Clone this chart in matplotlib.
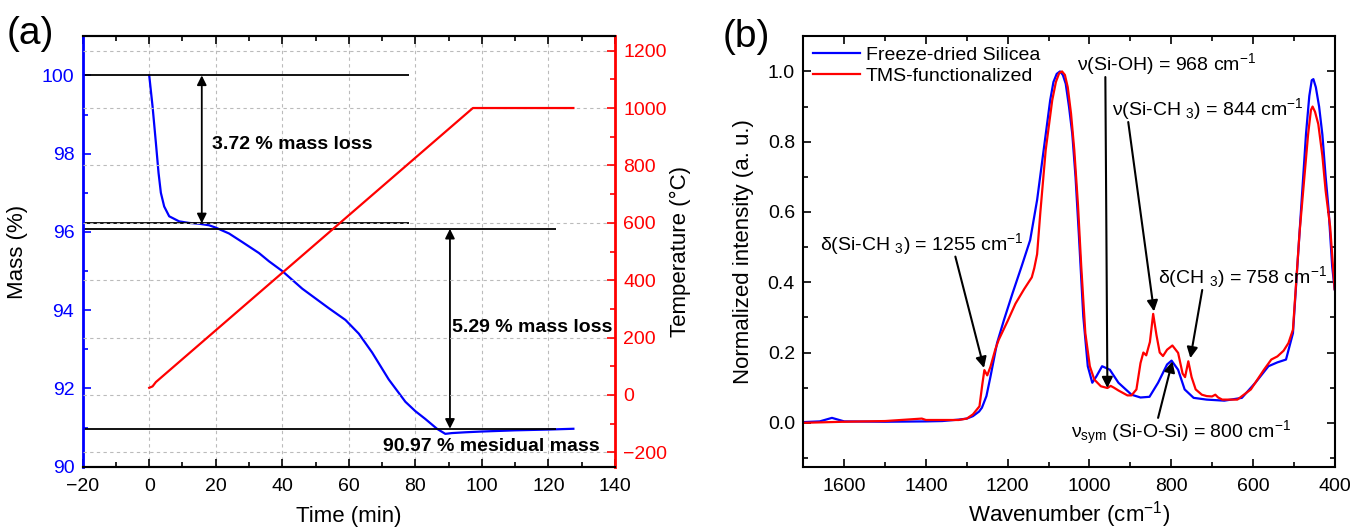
import numpy as np
import matplotlib
matplotlib.use('Agg')
import matplotlib.pyplot as plt
from matplotlib.ticker import MultipleLocator, FormatStrFormatter

plt.rcParams['font.family'] = ['Liberation Sans', 'DejaVu Sans']
plt.rcParams['mathtext.fontset'] = 'custom'
plt.rcParams['mathtext.rm'] = 'Liberation Sans'
plt.rcParams['mathtext.it'] = 'Liberation Sans:italic'
plt.rcParams['mathtext.bf'] = 'Liberation Sans:bold'

# (a) TGA: mass and temperature vs time
time_mass = [0, 1, 2, 2.8, 3.5, 4.5, 6, 9, 12, 15, 18, 20, 24, 28, 33, 36, 40, 46, 50, 54,
             59, 63, 67, 72, 77, 80, 83, 86.5, 89, 91, 95, 100, 110, 120, 127.5]
mass = [100, 99.21, 98.28, 97.51, 97.0, 96.65, 96.4, 96.27, 96.23, 96.21, 96.17, 96.11, 95.96,
        95.74, 95.46, 95.25, 95.0, 94.55, 94.3, 94.05, 93.75, 93.4, 92.92, 92.23, 91.66, 91.42,
        91.22, 90.97, 90.84, 90.86, 90.88, 90.9, 90.93, 90.95, 90.97]
time_temp = [0, 1, 2, 97.3, 127.5]
temp = [25, 30, 45, 1000, 1000]

# reference lines / labels for mass loss
top_lines = [100, 96.22]
bottom_lines = [96.08, 90.97]

# (b) FTIR spectra
wn_fd = [1700, 1660, 1630, 1600, 1500, 1400, 1360, 1320, 1300, 1285, 1270, 1263, 1252, 1242,
         1226, 1209, 1188, 1166, 1145, 1128, 1112, 1096, 1088, 1080, 1072, 1065, 1058, 1050,
         1042, 1034, 1026, 1015, 1004, 993, 983, 969, 950, 929, 897, 875, 853, 832, 810, 799,
         783, 767, 745, 713, 670, 627, 594, 562, 540, 519, 502, 486, 470, 462, 456, 452, 446,
         438, 430, 422, 415, 406, 400]
int_fd = [0.002, 0.004, 0.014, 0.004, 0.003, 0.004, 0.005, 0.009, 0.012, 0.019, 0.032, 0.043,
          0.076, 0.132, 0.227, 0.293, 0.369, 0.445, 0.52, 0.634, 0.776, 0.918, 0.97, 0.993,
          1.0, 0.99, 0.965, 0.9, 0.823, 0.7, 0.539, 0.303, 0.161, 0.114, 0.132, 0.161, 0.151,
          0.114, 0.080, 0.072, 0.074, 0.114, 0.166, 0.177, 0.151, 0.095, 0.071, 0.066, 0.063,
          0.071, 0.114, 0.161, 0.172, 0.180, 0.255, 0.539, 0.823, 0.93, 0.975, 0.978, 0.955,
          0.90, 0.82, 0.70, 0.61, 0.445, 0.38]

wn_tms = [1700, 1600, 1500, 1410, 1400, 1320, 1300, 1285, 1269, 1262, 1257, 1250, 1242, 1230,
          1222, 1200, 1181, 1160, 1141, 1135, 1128, 1120, 1107, 1091, 1082, 1074, 1067, 1060,
          1053, 1045, 1037, 1028, 1020, 1010, 999, 988, 972, 956, 948, 940, 929, 907, 897, 885,
          875, 868, 861, 852, 844, 836, 828, 820, 810, 797, 783, 772, 766, 758, 750, 740, 725,
          713, 700, 692, 685, 675, 638, 605, 573, 555, 540, 525, 513, 502, 486, 465, 458, 454,
          448, 440, 430, 422, 411, 400]
int_tms = [0.0, 0.003, 0.005, 0.012, 0.008, 0.008, 0.012, 0.024, 0.047, 0.11, 0.15, 0.135,
           0.16, 0.21, 0.236, 0.29, 0.339, 0.38, 0.414, 0.44, 0.48, 0.6, 0.776, 0.918, 0.97,
           0.995, 1.0, 0.99, 0.955, 0.88, 0.776, 0.62, 0.445, 0.255, 0.161, 0.123, 0.104, 0.099,
           0.105, 0.1, 0.092, 0.078, 0.078, 0.095, 0.17, 0.2, 0.192, 0.23, 0.31, 0.25, 0.2, 0.19,
           0.208, 0.22, 0.199, 0.14, 0.13, 0.175, 0.13, 0.095, 0.08, 0.076, 0.075, 0.08, 0.072,
           0.066, 0.066, 0.095, 0.151, 0.18, 0.189, 0.205, 0.227, 0.265, 0.539, 0.82, 0.89, 0.9,
           0.885, 0.85, 0.76, 0.66, 0.558, 0.38]

fig = plt.figure(figsize=(13.69, 5.32), dpi=100)

# ---------------- (a) ----------------
ax1 = fig.add_axes([0.0604, 0.1227, 0.3888, 0.8091])
ax2 = ax1.twinx()

ax1.plot(time_mass, mass, color='blue', lw=1.6)
ax2.plot(time_temp, temp, color='red', lw=1.6)

ax1.set_xlim(-20, 140)
ax1.set_ylim(90, 101)
ax2.set_ylim(-250, 1250)
ax1.xaxis.set_major_locator(MultipleLocator(20))
ax1.xaxis.set_minor_locator(MultipleLocator(10))
ax1.yaxis.set_major_locator(MultipleLocator(2))
ax1.yaxis.set_minor_locator(MultipleLocator(1))
ax2.yaxis.set_major_locator(MultipleLocator(200))
ax2.yaxis.set_minor_locator(MultipleLocator(100))

grid_kw = dict(color='#bbbbbb', lw=0.8, ls=(0, (3, 3)))
ax1.grid(axis='x', **grid_kw)
ax2.grid(axis='y', **grid_kw)

ax1.spines['right'].set_visible(False)
ax2.spines['left'].set_visible(False)
ax1.spines['left'].set_color('blue')
ax1.spines['left'].set_linewidth(2)
ax2.spines['right'].set_color('red')
ax2.spines['right'].set_linewidth(2)
for sp in ['top', 'bottom']:
    ax1.spines[sp].set_linewidth(1.5)
    ax2.spines[sp].set_linewidth(1.5)

ax1.tick_params(axis='x', which='both', direction='in', top=True, labelsize=14, width=1.2, pad=8)
ax1.tick_params(axis='y', which='both', direction='in', colors='blue', labelsize=14, width=1.2, pad=6)
ax2.tick_params(axis='y', which='both', direction='in', colors='red', labelsize=14, width=1.2, pad=6)
for ax in (ax1, ax2):
    ax.tick_params(which='major', length=6)
    ax.tick_params(which='minor', length=3.5)

ax1.set_xlabel('Time (min)', fontsize=16, labelpad=8)
ax1.set_ylabel('Mass (%)', fontsize=16, labelpad=10)
ax2.set_ylabel('Temperature (°C)', fontsize=16, labelpad=2)

ax1.hlines(top_lines, -20, 78, color='k', lw=1.3)
ax1.hlines(bottom_lines, -20, 122.3, color='k', lw=1.3)
arrow2 = dict(arrowstyle='<|-|>', color='k', lw=1.3, mutation_scale=14, shrinkA=0, shrinkB=0)
ax1.annotate('', xy=(15.8, top_lines[1]), xytext=(15.8, top_lines[0]), arrowprops=arrow2)
ax1.annotate('', xy=(90.4, bottom_lines[1]), xytext=(90.4, bottom_lines[0]), arrowprops=arrow2)

bold = dict(fontsize=14, fontweight='bold', va='center', ha='left')
ax1.text(18.8, 98.23, '3.72 % mass loss', **bold)
ax1.text(90.9, 93.56, '5.29 % mass loss', **bold)
ax1.text(70.4, 90.51, '90.97 % mesidual mass', **bold)

fig.text(0.005, 0.936, '(a)', fontsize=28, va='center', ha='left')

# ---------------- (b) ----------------
ax3 = fig.add_axes([0.5868, 0.1227, 0.3881, 0.8091])
ax3.plot(wn_fd, int_fd, color='blue', lw=1.6, label='Freeze-dried Silicea')
ax3.plot(wn_tms, int_tms, color='red', lw=1.6, label='TMS-functionalized')
ax3.set_xlim(1700, 400)
ax3.set_ylim(-0.125, 1.1)
ax3.xaxis.set_major_locator(MultipleLocator(200))
ax3.xaxis.set_minor_locator(MultipleLocator(100))
ax3.yaxis.set_major_locator(MultipleLocator(0.2))
ax3.yaxis.set_minor_locator(MultipleLocator(0.1))
ax3.yaxis.set_major_formatter(FormatStrFormatter('%.1f'))
ax3.tick_params(which='both', direction='in', top=True, right=True, labelsize=14, width=1.2)
ax3.tick_params(axis='x', pad=8)
ax3.tick_params(axis='y', pad=6)
ax3.tick_params(which='major', length=6)
ax3.tick_params(which='minor', length=3.5)
for sp in ax3.spines.values():
    sp.set_linewidth(1.5)

ax3.set_xlabel('Wavenumber (cm$^{-1}$)', fontsize=16, labelpad=3)
ax3.set_ylabel('Normalized intensity (a. u.)', fontsize=16, labelpad=10)

ax3.legend(loc='upper left', frameon=False, fontsize=14, handlelength=2.4,
           borderaxespad=0.1, labelspacing=0.2, handletextpad=0.3)

arrow1 = dict(arrowstyle='-|>', color='k', lw=1.5, mutation_scale=16, shrinkA=0, shrinkB=0)
note = dict(fontsize=14, va='center', ha='left')

ax3.text(1660, 0.51, r'δ(Si-CH$\ _3$) = 1255 cm$^{-1}$', **note)
ax3.annotate('', xy=(1258, 0.156), xytext=(1328, 0.473), arrowprops=arrow1)

ax3.text(1031, 1.02, r'ν(Si-OH) = 968 cm$^{-1}$', **note)
ax3.annotate('', xy=(956, 0.099), xytext=(961, 0.984), arrowprops=arrow1)

ax3.text(945, 0.894, r'ν(Si-CH$\ _3$) = 844 cm$^{-1}$', **note)
ax3.annotate('', xy=(842, 0.317), xytext=(905, 0.856), arrowprops=arrow1)

ax3.text(832, 0.416, r'δ(CH$\ _3$) = 758 cm$^{-1}$', **note)
ax3.annotate('', xy=(753, 0.184), xytext=(724, 0.378), arrowprops=arrow1)

ax3.text(1044, -0.028, r'ν$_{\rm sym}$ (Si-O-Si) = 800 cm$^{-1}$', **note)
ax3.annotate('', xy=(797, 0.175), xytext=(832, 0.014), arrowprops=arrow1)

fig.text(0.528, 0.93, '(b)', fontsize=28, va='center', ha='left')

fig.savefig('out.png', dpi=100)
